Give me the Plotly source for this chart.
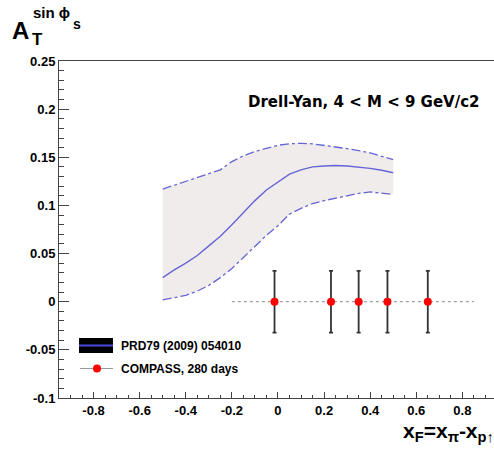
import plotly.graph_objects as go

# ---------------- data ----------------
theory_x = [-0.5, -0.45, -0.4, -0.35, -0.3, -0.25, -0.2, -0.15, -0.1, -0.05, 0.0,
            0.05, 0.1, 0.15, 0.2, 0.25, 0.3, 0.35, 0.4, 0.45, 0.5]
theory_central = [0.025, 0.033, 0.040, 0.048, 0.058, 0.068, 0.080, 0.093, 0.105, 0.116, 0.124,
                  0.1325, 0.137, 0.140, 0.141, 0.1415, 0.141, 0.140, 0.1385, 0.1365, 0.134]
theory_upper = [0.117, 0.121, 0.125, 0.129, 0.1325, 0.137, 0.1455, 0.1515, 0.156, 0.1595, 0.1625,
                0.164, 0.1645, 0.164, 0.1625, 0.161, 0.159, 0.157, 0.1545, 0.151, 0.1475]
theory_lower = [0.002, 0.004, 0.0065, 0.011, 0.017, 0.025, 0.0345, 0.046, 0.058, 0.069, 0.079,
                0.091, 0.097, 0.102, 0.105, 0.1075, 0.110, 0.1125, 0.114, 0.113, 0.1115]

compass_x = [-0.015, 0.23, 0.35, 0.475, 0.65]
compass_y = [0.0, 0.0, 0.0, 0.0, 0.0]
compass_err = [0.032, 0.032, 0.032, 0.032, 0.032]

zero_line_x = [-0.2, 0.85]
zero_line_y = [0.0, 0.0]

x_tick_vals = [-0.8, -0.6, -0.4, -0.2, 0.0, 0.2, 0.4, 0.6, 0.8]
x_tick_text = ["-0.8", "-0.6", "-0.4", "-0.2", "0", "0.2", "0.4", "0.6", "0.8"]
y_tick_vals = [-0.1, -0.05, 0.0, 0.05, 0.1, 0.15, 0.2, 0.25]
y_tick_text = ["-0.1", "-0.05", "0", "0.05", "0.1", "0.15", "0.2", "0.25"]

header_text = "Drell-Yan, 4 < M < 9 GeV/c2"
legend_labels = ["PRD79 (2009) 054010", "COMPASS, 280 days"]

# ---------------- layout geometry (page pixels) ----------------
W_FIG, H_FIG = 494, 450
L, T, B, R = 59, 61, 52, 0
PW = W_FIG - L - R
PH = H_FIG - T - B
X_LEFT = -0.95
X_RIGHT = X_LEFT + PW / 230.5  # frame continues beyond the visible window


def px(xp):
    return (xp - L) / PW


def py(yp):
    return (H_FIG - B - yp) / PH


FONT = "Liberation Sans, Arial, sans-serif"
FONT_WIDE = "DejaVu Sans, Liberation Sans, sans-serif"
LINE_BLUE = "#6565d6"
BAND_FILL = "#f1ecec"

fig = go.Figure()

# band
fig.add_trace(go.Scatter(
    x=theory_x + theory_x[::-1],
    y=theory_upper + theory_lower[::-1],
    fill="toself", fillcolor=BAND_FILL, line=dict(width=0),
    mode="lines", hoverinfo="skip", showlegend=False))
fig.add_trace(go.Scatter(x=theory_x, y=theory_upper, mode="lines",
                         line=dict(color=LINE_BLUE, width=1.3, dash="dashdot"),
                         showlegend=False))
fig.add_trace(go.Scatter(x=theory_x, y=theory_lower, mode="lines",
                         line=dict(color=LINE_BLUE, width=1.3, dash="dashdot"),
                         showlegend=False))
fig.add_trace(go.Scatter(x=theory_x, y=theory_central, mode="lines",
                         line=dict(color=LINE_BLUE, width=1.4),
                         showlegend=False))

# zero dotted line
fig.add_trace(go.Scatter(x=zero_line_x, y=zero_line_y, mode="lines",
                         line=dict(color="#888888", width=1, dash="dot"),
                         showlegend=False))

# COMPASS points
fig.add_trace(go.Scatter(
    x=compass_x, y=compass_y, mode="markers",
    marker=dict(color="#ff0000", size=8, line=dict(width=0)),
    error_y=dict(type="data", array=compass_err, color="#333333", thickness=1.8, width=2),
    showlegend=False))

fig.update_xaxes(
    range=[X_LEFT, X_RIGHT], showgrid=False, zeroline=False,
    showline=True, linecolor="#444444", linewidth=1, mirror=True,
    ticks="inside", ticklen=6, tickcolor="#444444", tickwidth=1,
    tickvals=x_tick_vals, ticktext=x_tick_text,
    tickfont=dict(family=FONT, size=13, color="#000000", weight="bold"),
    minor=dict(dtick=0.05, tick0=0, ticks="inside", ticklen=3, tickcolor="#444444", showgrid=False),
)
fig.update_yaxes(
    range=[-0.1, 0.25], showgrid=False, zeroline=False,
    showline=True, linecolor="#444444", linewidth=1, mirror=False,
    ticks="inside", ticklen=10, tickcolor="#444444", tickwidth=1,
    tickvals=y_tick_vals, ticktext=y_tick_text,
    tickfont=dict(family=FONT, size=13, color="#000000", weight="bold"),
    minor=dict(dtick=0.01, tick0=0, ticks="inside", ticklen=5, tickcolor="#444444", showgrid=False),
)

# legend (drawn manually)
fig.add_shape(type="rect", xref="paper", yref="paper",
              x0=px(79), x1=px(113), y0=py(353), y1=py(338),
              fillcolor="#000000", line=dict(width=0))
fig.add_shape(type="line", xref="paper", yref="paper",
              x0=px(79), x1=px(113), y0=py(345.5), y1=py(345.5),
              line=dict(color="#4848e0", width=2))
fig.add_shape(type="line", xref="paper", yref="paper",
              x0=px(80), x1=px(113), y0=py(368.5), y1=py(368.5),
              line=dict(color="#999999", width=1))
fig.add_shape(type="circle", xref="paper", yref="paper",
              x0=px(93), x1=px(101), y0=py(372.5), y1=py(364.5),
              fillcolor="#ff0000", line=dict(width=0))

annots = [
    dict(text=legend_labels[0], x=px(119), y=py(345.5), xanchor="left", yanchor="middle", size=12, fam=FONT),
    dict(text=legend_labels[1], x=px(119), y=py(368.5), xanchor="left", yanchor="middle", size=12, fam=FONT),
    dict(text=header_text, x=px(481), y=py(102), xanchor="right", yanchor="middle", size=15, fam=FONT_WIDE),
    dict(text="A", x=px(10), y=py(30), xanchor="left", yanchor="middle", size=24, fam=FONT),
    dict(text="T", x=px(30), y=py(40), xanchor="left", yanchor="middle", size=17, fam=FONT),
    dict(text="sin ϕ", x=px(31), y=py(13), xanchor="left", yanchor="middle", size=15, fam=FONT),
    dict(text="s", x=px(71), y=py(24), xanchor="left", yanchor="middle", size=14, fam=FONT),
    dict(text="x<sub>F</sub>=x<sub>π</sub>-x<sub>p↑</sub>", x=px(401), y=py(432),
         xanchor="left", yanchor="middle", size=21, fam=FONT),
]
for a in annots:
    fig.add_annotation(text=a["text"], x=a["x"], y=a["y"], xref="paper", yref="paper",
                       xanchor=a["xanchor"], yanchor=a["yanchor"], showarrow=False,
                       font=dict(family=a["fam"], size=a["size"], color="#000000", weight="bold"))

fig.update_layout(
    width=W_FIG, height=H_FIG,
    margin=dict(l=L, r=R, t=T, b=B, pad=0),
    paper_bgcolor="#ffffff", plot_bgcolor="#ffffff",
    showlegend=False, hovermode=False,
)

fig.write_html("out.html",
               config={"displayModeBar": False},
               post_script="document.body.style.margin='0';document.body.style.overflow='hidden';")
